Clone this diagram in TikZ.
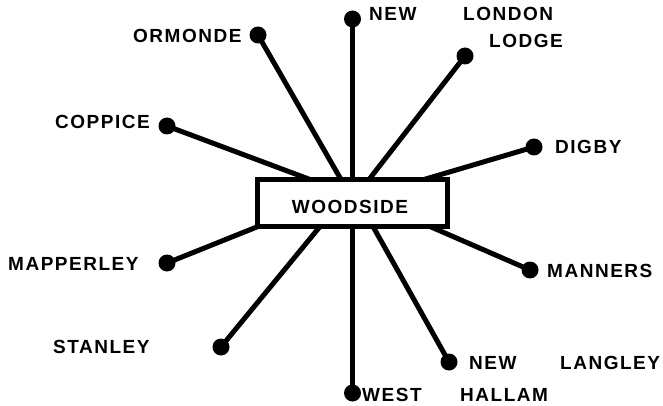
\documentclass[tikz,border=0pt]{standalone}
\usepackage{fontspec}
\setmainfont{Liberation Sans}[LetterSpace=8]
\begin{document}
\begin{tikzpicture}[x=1pt,y=-1pt,
  dot/.style={circle,fill=black,inner sep=0pt,minimum size=17pt},
  lbl/.style={anchor=west,inner sep=0pt,font=\fontsize{19}{19}\selectfont\bfseries},
  link/.style={line width=5pt},
  hub/.style={draw,line width=5pt,fill=white,minimum width=190pt,minimum height=47pt,inner sep=0pt,font=\fontsize{19}{19}\selectfont\bfseries}]
\useasboundingbox[fill=white] (0,0) rectangle (663,406);
% dots
\node[dot] (dNewLondon) at (352.5,19) {};
\node[dot] (dOrmonde) at (258,35) {};
\node[dot] (dLodge) at (465,56) {};
\node[dot] (dCoppice) at (167,126) {};
\node[dot] (dDigby) at (534,147) {};
\node[dot] (dMapperley) at (167,263) {};
\node[dot] (dManners) at (530,270) {};
\node[dot] (dStanley) at (221,347) {};
\node[dot] (dNewHallam) at (449,362) {};
\node[dot] (dWest) at (352.5,393) {};
% ends on the box outline
\coordinate (eCoppice) at (310,179.5);
\coordinate (eOrmonde) at (341,179.5);
\coordinate (eNewLondon) at (352.5,179.5);
\coordinate (eLodge) at (369,179.5);
\coordinate (eDigby) at (424,179.5);
\coordinate (eMapperley) at (258,226.5);
\coordinate (eStanley) at (320,226.5);
\coordinate (eWest) at (352.5,226.5);
\coordinate (eNewHallam) at (373,226.5);
\coordinate (eManners) at (430,226.5);
% connectors
\draw[link] (dCoppice.center) -- (eCoppice);
\draw[link] (dOrmonde.center) -- (eOrmonde);
\draw[link] (dNewLondon.center) -- (eNewLondon);
\draw[link] (dLodge.center) -- (eLodge);
\draw[link] (dDigby.center) -- (eDigby);
\draw[link] (dMapperley.center) -- (eMapperley);
\draw[link] (dStanley.center) -- (eStanley);
\draw[link] (dWest.center) -- (eWest);
\draw[link] (dNewHallam.center) -- (eNewHallam);
\draw[link] (dManners.center) -- (eManners);
% hub box
\node[hub] (box) at (352.5,203) {};
\node[lbl,anchor=center] (woodside) at (350,207) {WOODSIDE};
% labels
\node[lbl] (lOrmonde) at (133,36) {ORMONDE};
\node[lbl] (lCoppice) at (55,122) {COPPICE};
\node[lbl] (lNew1) at (369,14) {NEW};
\node[lbl] (lLondon) at (463,14) {LONDON};
\node[lbl] (lLodge) at (489,41) {LODGE};
\node[lbl] (lDigby) at (555,147) {DIGBY};
\node[lbl] (lManners) at (547,271) {MANNERS};
\node[lbl] (lMapperley) at (8,264) {MAPPERLEY};
\node[lbl] (lStanley) at (53,347) {STANLEY};
\node[lbl] (lNew2) at (469,363) {NEW};
\node[lbl] (lLangley) at (560,363) {LANGLEY};
\node[lbl] (lWest) at (362,395) {WEST};
\node[lbl] (lHallam) at (460,395) {HALLAM};
\end{tikzpicture}
\end{document}
